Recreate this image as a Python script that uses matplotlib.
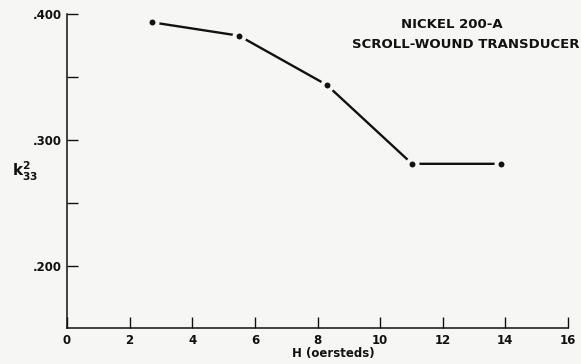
import matplotlib.pyplot as plt
from matplotlib.ticker import FixedLocator

# k33^2 versus bias field, Nickel 200-A scroll-wound transducer
field_oe = [2.72, 5.49, 8.30, 11.02, 13.87]
k33_sq = [0.3934, 0.3828, 0.3437, 0.2812, 0.2812]

x_ticks = [0, 2, 4, 6, 8, 10, 12, 14, 16]
y_major = [0.200, 0.300, 0.400]
y_minor = [0.250, 0.350]
y_labels = [".200", ".300", ".400"]

BG = "#f6f6f4"
INK = "#111111"
W, H = 581, 364

plt.rcParams["font.family"] = ["DejaVu Sans"]
plt.rcParams["font.weight"] = "bold"
plt.rcParams["mathtext.fontset"] = "dejavusans"

fig = plt.figure(figsize=(W / 100, H / 100), dpi=100, facecolor=BG)
ax = fig.add_axes([67 / W, 36 / H, 501 / W, 314 / H], facecolor=BG)

ax.plot(field_oe, k33_sq, color=INK, lw=1.7, zorder=2)
ax.plot(field_oe, k33_sq, ls="none", marker="o", ms=7.2, mew=2.9,
        mfc=INK, mec=BG, zorder=3)

ax.set_xlim(0, 16)
ax.set_ylim(0.151, 0.400)
for side in ("top", "right"):
    ax.spines[side].set_visible(False)
for side in ("left", "bottom"):
    ax.spines[side].set_color(INK)
    ax.spines[side].set_linewidth(1.1)

ax.xaxis.set_major_locator(FixedLocator(x_ticks))
ax.yaxis.set_major_locator(FixedLocator(y_major))
ax.yaxis.set_minor_locator(FixedLocator(y_minor))
ax.set_yticklabels(y_labels)
ax.tick_params(axis="both", which="both", direction="in", length=8,
               width=1.0, color=INK, labelsize=8.5, labelcolor=INK)
ax.tick_params(axis="x", pad=4)
ax.tick_params(axis="y", pad=4)

fig.text(333 / W, 1 - 354 / H, "H (oersteds)", fontsize=8.5,
         fontweight="bold", color=INK, ha="center", va="center")
fig.text(0.02, 0.53, r"$\mathbf{k}_{\mathbf{33}}^{\mathbf{2}}$",
         fontsize=11, color=INK, va="center", ha="left")

fig.text(452 / W, 1 - 25 / H, "NICKEL 200-A", ha="center", va="center",
         fontsize=9.5, fontweight="bold", color=INK)
fig.text(466 / W, 1 - 44 / H, "SCROLL-WOUND TRANSDUCER", ha="center",
         va="center", fontsize=9.5, fontweight="bold", color=INK)

fig.savefig("out.png", dpi=100, facecolor=BG)
